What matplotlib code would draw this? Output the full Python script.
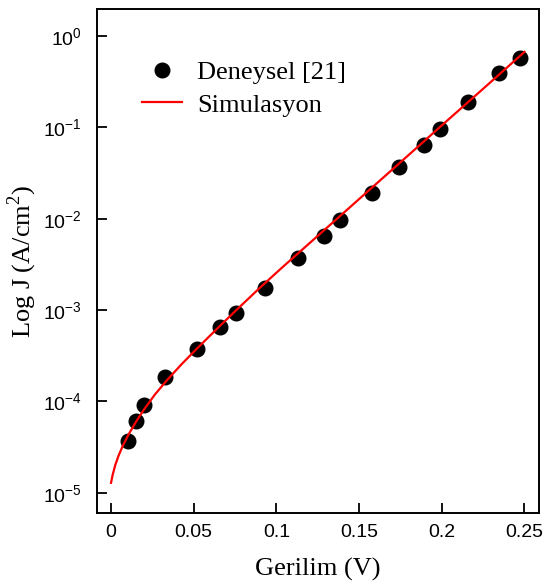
import math
import matplotlib
matplotlib.use('Agg')
import matplotlib.pyplot as plt
from matplotlib.ticker import FixedLocator, FuncFormatter, NullLocator

plt.rcParams['axes.unicode_minus'] = False
plt.rcParams['mathtext.fontset'] = 'custom'
plt.rcParams['mathtext.rm'] = 'Liberation Sans'

# measured points (Deneysel [21])
exp_v = [0.0103, 0.0151, 0.0200, 0.0326, 0.0520, 0.0659, 0.0756, 0.0931, 0.1130,
         0.1287, 0.1384, 0.1578, 0.1741, 0.1892, 0.1989, 0.2158, 0.2346, 0.2473]
exp_j = [3.7e-5, 6.1e-5, 9.2e-5, 1.86e-4, 3.76e-4, 6.5e-4, 9.3e-4, 1.75e-3, 3.72e-3,
         6.5e-3, 9.7e-3, 1.91e-2, 3.69e-2, 6.4e-2, 9.6e-2, 0.19, 0.39, 0.57]

# simulation curve
sim_v = [0.0, 0.001, 0.0025, 0.0045, 0.007, 0.0105, 0.015, 0.0195, 0.0265, 0.0337,
         0.0425, 0.0518, 0.0659, 0.076, 0.0901, 0.1022, 0.125, 0.15, 0.175, 0.2,
         0.225, 0.25]
sim_j = [1.29e-5, 1.58e-5, 2.0e-5, 2.54e-5, 3.24e-5, 4.33e-5, 5.96e-5, 7.96e-5,
         1.19e-4, 1.70e-4, 2.54e-4, 3.77e-4, 6.73e-4, 1.01e-3, 1.76e-3, 2.79e-3,
         6.49e-3, 1.64e-2, 4.14e-2, 0.105, 0.264, 0.668]

xticks = [0, 0.05, 0.1, 0.15, 0.2, 0.25]
xticklabels = ['0', '0.05', '0.1', '0.15', '0.2', '0.25']
yticks = [1e-5, 1e-4, 1e-3, 1e-2, 1e-1, 1e0]

fig = plt.figure(figsize=(5.47, 5.83), dpi=100)
ax = fig.add_axes([0.1773, 0.1201, 0.8081, 0.8645])

ax.plot(exp_v, exp_j, 'o', color='black', markersize=10.5, label='Deneysel [21]', zorder=2)
ax.plot(sim_v, sim_j, '-', color='red', linewidth=1.6, label='Simulasyon', zorder=3)

ax.set_yscale('log')
ax.set_xlim(-0.0085, 0.2588)
ax.set_ylim(10 ** -5.22, 10 ** 0.295)

ax.xaxis.set_major_locator(FixedLocator(xticks))
ax.set_xticklabels(xticklabels)
ax.yaxis.set_major_locator(FixedLocator(yticks))
ax.yaxis.set_minor_locator(NullLocator())
ax.yaxis.set_major_formatter(FuncFormatter(
    lambda v, p: r'$\mathregular{10^{%d}}$' % round(math.log10(v))))

ax.tick_params(direction='in', length=7, width=1.3, top=False, right=False,
               labelsize=14)
ax.tick_params(axis='x', pad=8)
ax.tick_params(axis='y', pad=11)
for lab in ax.get_xticklabels() + ax.get_yticklabels():
    lab.set_fontfamily('Liberation Sans')
for s in ax.spines.values():
    s.set_linewidth(1.4)

ax.set_xlabel('Gerilim (V)', fontfamily='Liberation Serif', fontsize=19, labelpad=12)
ax.set_ylabel(r'Log J (A/cm$^{\mathregular{2}}$)', fontfamily='Liberation Serif',
              fontsize=19, labelpad=3)

ax.legend(loc='upper left', bbox_to_anchor=(0.048, 0.945), frameon=False,
          prop={'family': 'Liberation Serif', 'size': 19}, handlelength=1.5,
          handletextpad=0.6, labelspacing=0.35)

fig.savefig('out.png', dpi=100)
